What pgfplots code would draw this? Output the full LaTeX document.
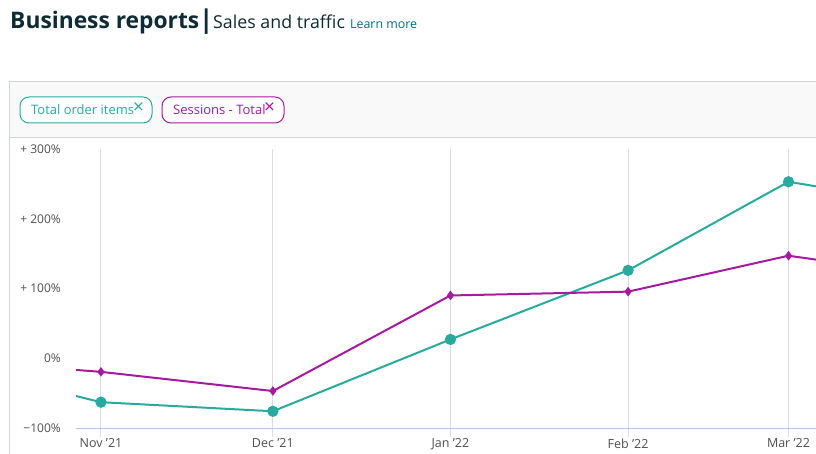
\documentclass[border=0pt]{standalone}
\usepackage{pgfplots}
\pgfplotsset{compat=1.18}
\usepackage{fontspec}
\setmainfont{Open Sans}
\definecolor{teal1}{RGB}{40,171,158}
\definecolor{mag1}{RGB}{166,26,160}
\definecolor{titlec}{RGB}{15,43,51}
\definecolor{linkc}{RGB}{0,113,133}
\definecolor{gridc}{RGB}{218,222,226}
\definecolor{axisc}{RGB}{184,201,230}
\definecolor{labc}{RGB}{80,80,80}
\definecolor{boxc}{RGB}{208,214,214}
\definecolor{boxfill}{RGB}{249,249,249}
\begin{document}
\begin{tikzpicture}[x=1pt,y=1pt]
\useasboundingbox (0,0) rectangle (816,453);
\fill[white] (0,0) rectangle (816,453);
% title
\node[anchor=base west, inner sep=0pt, text=titlec] at (10,424) {\fontsize{22.8}{26}\selectfont\bfseries Business reports};
\node[anchor=base west, inner sep=0pt, text=titlec] at (199,424) {\fontsize{26}{28}\selectfont\bfseries |};
\node[anchor=base west, inner sep=0pt, text=titlec] at (213,424) {\fontsize{17.8}{22}\selectfont Sales and traffic};
\node[anchor=base west, inner sep=0pt, text=linkc] at (350,424) {\fontsize{12.4}{15}\selectfont Learn more};
% filter box
\filldraw[fill=boxfill, draw=boxc, line width=1pt] (9,371) rectangle (830,315);
\draw[boxc, line width=1pt] (9,315) -- (9,-2);
% chips
\filldraw[fill=white, draw=teal1, line width=1pt, rounded corners=9pt] (20,356) rectangle (152,330);
\node[anchor=base west, inner sep=0pt, text=teal1] at (31,338) {\fontsize{13}{15}\selectfont Total order items};
\node[anchor=base west, inner sep=0pt, text=teal1] at (133,339) {\fontsize{19}{20}\selectfont ×};
\filldraw[fill=white, draw=mag1, line width=1pt, rounded corners=9pt] (162,356) rectangle (284,330);
\node[anchor=base west, inner sep=0pt, text=mag1] at (173,338) {\fontsize{13}{15}\selectfont Sessions - Total};
\node[anchor=base west, inner sep=0pt, text=mag1] at (264,339) {\fontsize{19}{20}\selectfont ×};
\begin{axis}[
  at={(76pt,25pt)}, anchor=south west,
  scale only axis, width=740pt, height=279pt,
  xmin=-4.36, xmax=124.8, ymin=-100, ymax=300,
  separate axis lines,
  axis x line*=bottom, axis y line*=left,
  x axis line style={draw=axisc, line width=1pt, -},
  y axis line style={draw=none},
  xtick={0,30,61,92,120},
  xticklabels={Nov '21, Dec '21, Jan '22, Feb '22, Mar '22},
  ytick={-100,0,100,200,300},
  yticklabels={−100\%, 0\%, + 100\%, + 200\%, + 300\%},
  xtick align=outside,
  x tick style={draw=gridc, line width=1pt},
  y tick style={draw=none},
  major tick length=9pt,
  xmajorgrids, ymajorgrids=false,
  grid style={draw=gridc, line width=1pt},
  xticklabel style={font=\fontsize{12.5}{14}\selectfont, text=labc, anchor=north, inner sep=0pt, yshift=-1.5pt},
  yticklabel style={font=\fontsize{12}{13}\selectfont, text=labc, anchor=east, inner sep=0pt, xshift=-15pt},
  clip=true,
]
\addplot[teal1, line width=2pt, mark=*, mark size=4.6pt, mark indices={1,2,3,4,5}, mark options={fill=teal1, draw=none}]
coordinates {(-31,0) (0,-63) (30,-76) (61,27) (92,126) (120,253) (151,211)};
\addplot[mag1, line width=2pt, mark=diamond*, mark size=3.2pt, mark indices={1,2,3,4,5}, mark options={fill=mag1, draw=none}]
coordinates {(-31,0) (0,-19.5) (30,-47) (61,90) (92,95.5) (120,147) (151,111)};
\end{axis}
\end{tikzpicture}
\end{document}
